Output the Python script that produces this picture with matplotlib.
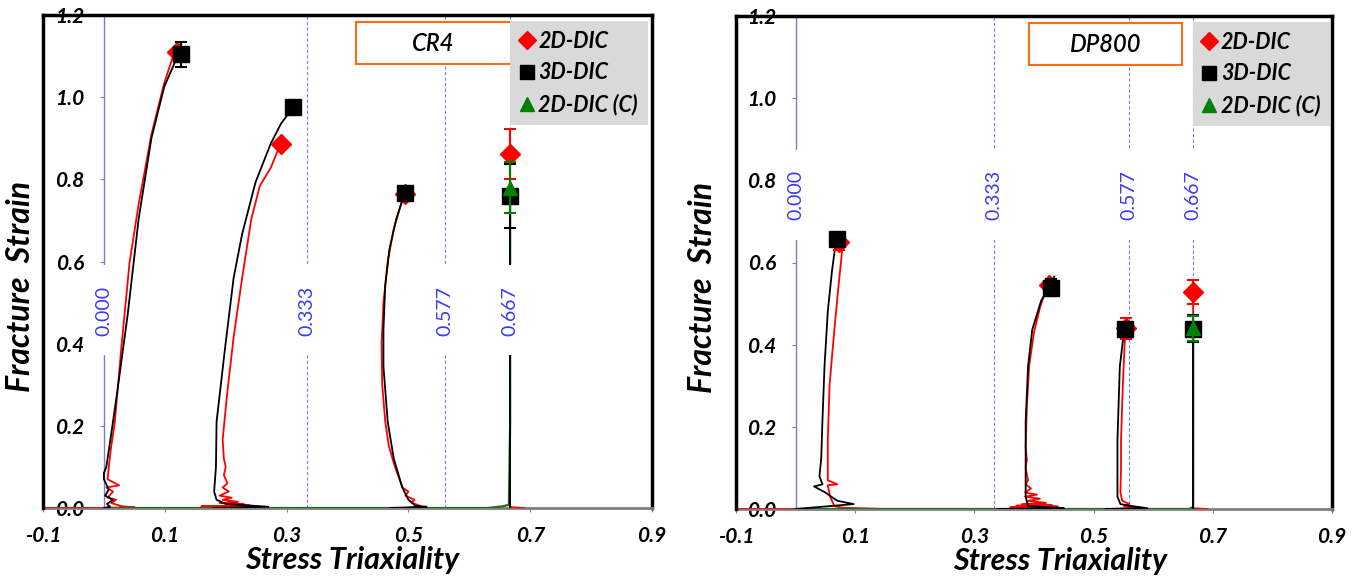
# -*- coding: utf-8 -*-
"""
Fracture strain vs stress triaxiality - CR4 and DP800
"""

import numpy as np
import matplotlib
matplotlib.use("Agg")
import matplotlib.pyplot as plt
from matplotlib.lines import Line2D
from matplotlib.patches import Rectangle

plt.rcParams['font.family'] = ['Lato', 'DejaVu Sans']

# ============================================================
# Data
# ============================================================

xticks = [-0.1, 0.1, 0.3, 0.5, 0.7, 0.9]
xtick_labels = ['-0.1', '0.1', '0.3', '0.5', '0.7', '0.9']
yticks = [0.0, 0.2, 0.4, 0.6, 0.8, 1.0, 1.2]
ytick_labels = ['0.0', '0.2', '0.4', '0.6', '0.8', '1.0', '1.2']

guide_x = [0.0, 0.333, 0.56, 0.667]
guide_labels = ['0.000', '0.333', '0.577', '0.667']

series_names = ['2D-DIC', '3D-DIC', '2D-DIC (C)']

# ---- CR4 curves (x = triaxiality, y = strain)
cr4_2d_curves = [
    ([-0.1, 0.0, 0.05, 0.03, 0.012, 0.02, 0.006, 0.015, 0.004, 0.025, 0.006, 0.008, 0.012, 0.018, 0.028, 0.042, 0.057, 0.078, 0.099, 0.117],
     [0.0, 0.0, 0.002, 0.004, 0.012, 0.02, 0.025, 0.04, 0.05, 0.055, 0.07, 0.1, 0.15, 0.21, 0.38, 0.596, 0.739, 0.909, 1.034, 1.115]),
    ([0.14, 0.25, 0.16, 0.24, 0.2, 0.23, 0.19, 0.22, 0.195, 0.21, 0.19, 0.205, 0.195, 0.203, 0.197, 0.2, 0.197, 0.195, 0.202, 0.213, 0.227, 0.242, 0.256, 0.274, 0.29],
     [0.0, 0.002, 0.004, 0.006, 0.008, 0.01, 0.012, 0.015, 0.02, 0.025, 0.03, 0.04, 0.05, 0.06, 0.08, 0.1, 0.12, 0.166, 0.273, 0.416, 0.56, 0.703, 0.784, 0.828, 0.887]),
    ([0.5, 0.52, 0.505, 0.51, 0.495, 0.5, 0.49, 0.478, 0.468, 0.462, 0.457, 0.456, 0.459, 0.466, 0.476, 0.488, 0.492],
     [0.0, 0.005, 0.013, 0.02, 0.03, 0.04, 0.05, 0.1, 0.15, 0.21, 0.3, 0.4, 0.5, 0.6, 0.68, 0.74, 0.76]),
    ([0.69, 0.667, 0.667], [0.0, 0.002, 0.862]),
]
cr4_3d_curves = [
    ([0.0, 0.01, 0.005, 0.015, 0.002, 0.008, 0.0, 0.0, 0.004, 0.012, 0.021, 0.039, 0.057, 0.078, 0.099, 0.121],
     [0.0, 0.003, 0.01, 0.02, 0.03, 0.045, 0.07, 0.085, 0.1, 0.18, 0.273, 0.47, 0.703, 0.9, 1.025, 1.1]),
    ([0.18, 0.27, 0.2, 0.185, 0.181, 0.184, 0.185, 0.192, 0.199, 0.213, 0.227, 0.249, 0.274, 0.291, 0.311],
     [0.0, 0.003, 0.01, 0.02, 0.04, 0.1, 0.21, 0.3, 0.39, 0.56, 0.667, 0.793, 0.887, 0.936, 0.976]),
    ([0.47, 0.53, 0.512, 0.5, 0.49, 0.476, 0.466, 0.459, 0.459, 0.462, 0.469, 0.48, 0.494],
     [0.0, 0.003, 0.005, 0.02, 0.05, 0.12, 0.21, 0.345, 0.434, 0.542, 0.631, 0.703, 0.767]),
    ([0.667, 0.667], [0.0, 0.759]),
]
cr4_2dc_curves = [
    ([0.0, 0.63, 0.655, 0.665, 0.667, 0.667], [0.0, 0.0, 0.004, 0.008, 0.2, 0.779]),
]

# ---- CR4 fracture points
cr4_2d_x = [0.12, 0.29, 0.494, 0.667]
cr4_2d_y = [1.11, 0.887, 0.765, 0.862]
cr4_2d_err = [0.0, 0.0, 0.0, 0.06]
cr4_3d_x = [0.126, 0.311, 0.494, 0.667]
cr4_3d_y = [1.104, 0.976, 0.767, 0.759]
cr4_3d_err = [0.03, 0.0, 0.0, 0.078]
cr4_2dc_x = [0.667]
cr4_2dc_y = [0.779]
cr4_2dc_err = [0.062]

# ---- DP800 curves
dp_2d_curves = [
    ([-0.1, 0.0, 0.15, 0.08, 0.065, 0.058, 0.054, 0.07, 0.054, 0.054, 0.057, 0.065, 0.072, 0.079],
     [0.0, 0.0, 0.0, 0.003, 0.007, 0.03, 0.058, 0.06, 0.07, 0.168, 0.302, 0.436, 0.543, 0.642]),
    ([0.33, 0.45, 0.36, 0.44, 0.37, 0.43, 0.38, 0.42, 0.39, 0.41, 0.385, 0.405, 0.385, 0.395, 0.386, 0.39, 0.386, 0.388, 0.386, 0.388, 0.392, 0.4, 0.41, 0.425],
     [0.0, 0.002, 0.004, 0.006, 0.008, 0.01, 0.012, 0.015, 0.02, 0.025, 0.03, 0.035, 0.04, 0.05, 0.06, 0.07, 0.1, 0.12, 0.15, 0.25, 0.35, 0.43, 0.49, 0.555]),
    ([0.53, 0.58, 0.551, 0.56, 0.548, 0.545, 0.546, 0.546, 0.549, 0.552, 0.555],
     [0.0, 0.003, 0.007, 0.012, 0.02, 0.04, 0.1, 0.168, 0.3, 0.4, 0.454]),
    ([0.69, 0.667, 0.667], [0.0, 0.002, 0.528]),
]
dp_3d_curves = [
    ([0.0, 0.0975, 0.07, 0.05, 0.031, 0.045, 0.04, 0.043, 0.045, 0.0485, 0.054, 0.061, 0.068],
     [0.0, 0.012, 0.02, 0.04, 0.055, 0.06, 0.08, 0.123, 0.213, 0.347, 0.481, 0.579, 0.655]),
    ([0.34, 0.45, 0.39, 0.386, 0.386, 0.386, 0.39, 0.397, 0.412, 0.427, 0.434],
     [0.0, 0.002, 0.007, 0.03, 0.079, 0.213, 0.347, 0.436, 0.507, 0.543, 0.566]),
    ([0.52, 0.59, 0.56, 0.545, 0.54, 0.54, 0.54, 0.544, 0.55, 0.553],
     [0.0, 0.002, 0.008, 0.012, 0.03, 0.1, 0.168, 0.347, 0.42, 0.44]),
    ([0.667, 0.667], [0.0, 0.439]),
]
dp_2dc_curves = [
    ([0.0, 0.66, 0.667, 0.667], [0.0, 0.0, 0.005, 0.44]),
]

# ---- DP800 fracture points
dp_2d_x = [0.072, 0.425, 0.555, 0.667]
dp_2d_y = [0.65, 0.545, 0.44, 0.528]
dp_2d_err = [0.02, 0.0, 0.025, 0.03]
dp_3d_x = [0.0697, 0.428, 0.553, 0.667]
dp_3d_y = [0.658, 0.539, 0.439, 0.439]
dp_3d_err = [0.015, 0.02, 0.0, 0.033]
dp_2dc_x = [0.667]
dp_2dc_y = [0.44]
dp_2dc_err = [0.03]

# ============================================================
# Plot
# ============================================================

fig = plt.figure(figsize=(13.64, 5.76), dpi=100)

ax1 = fig.add_axes([43 / 1364, 1 - 508 / 576, 609 / 1364, 493 / 576])
ax2 = fig.add_axes([736 / 1364, 1 - 509 / 576, 596 / 1364, 493 / 576])

bi = dict(fontweight='bold', fontstyle='italic')


def draw_panel(ax, name, curves2d, curves3d, curves2dc, pts2d, pts3d, pts2dc,
               label_y, gap, box_x, leg_x, ylab_x, xlab_x):
    ax.set_xlim(-0.1, 0.9)
    ax.set_ylim(0, 1.2)

    # guide lines with labels (line broken where the label sits)
    for i, (gx, gl) in enumerate(zip(guide_x, guide_labels)):
        if i == 0:
            ax.axvline(gx, color='#7f7fbf', lw=1.0, zorder=1)
        else:
            ax.axvline(gx, color='#7a7aff', lw=0.8, ls=(0, (3, 2)), zorder=1)
        ax.add_patch(Rectangle((gx - 0.012, gap[0]), 0.024, gap[1] - gap[0],
                               fc='white', ec='none', zorder=7))
        ax.text(gx, label_y, gl, rotation=90, ha='center', va='center',
                fontsize=14, color='#3a3af0', zorder=8)

    # curves
    for cx, cy in curves2d:
        ax.plot(cx, cy, color='red', lw=1.3, zorder=3)
    for cx, cy in curves2dc:
        ax.plot(cx, cy, color='#1f6a1f', lw=1.6, zorder=3)
    for cx, cy in curves3d:
        ax.plot(cx, cy, color='black', lw=1.3, zorder=3)

    # fracture points
    ax.errorbar(pts2d[0], pts2d[1], yerr=pts2d[2], fmt='D', color='red',
                ms=10, capsize=4, elinewidth=1.5, capthick=1.5, zorder=4)
    ax.errorbar(pts3d[0], pts3d[1], yerr=pts3d[2], fmt='s', color='black',
                ms=11, capsize=4, elinewidth=1.5, capthick=1.5, zorder=5)
    ax.errorbar(pts2dc[0], pts2dc[1], yerr=pts2dc[2], fmt='^', color='green',
                ms=10, capsize=4, elinewidth=1.5, capthick=1.5, zorder=6)

    # axes frame
    ax.spines['left'].set_position(('data', 0))
    ax.spines['left'].set_color('none')
    for s in ['top', 'right']:
        ax.spines[s].set_linewidth(2.5)
        ax.spines[s].set_color('black')
    ax.spines['bottom'].set_color('#7f7f7f')
    ax.spines['bottom'].set_linewidth(2.0)
    ax.axvline(-0.1, color='black', lw=2.5, clip_on=False, zorder=7)

    ax.set_xticks(xticks)
    ax.set_xticklabels(xtick_labels, **bi)
    ax.set_yticks(yticks)
    ax.set_yticklabels(ytick_labels, **bi)
    ax.tick_params(axis='x', direction='out', length=3, color='#7f7f7f',
                   labelsize=15, pad=10)
    ax.tick_params(axis='y', direction='out', length=3, color='#7f7f7f',
                   labelsize=15, pad=11)

    ax.set_ylabel('Fracture  Strain', fontsize=23, **bi)
    ax.yaxis.set_label_coords(ylab_x, 0.45)
    ax.set_xlabel('Stress Triaxiality', fontsize=22, **bi)
    ax.xaxis.set_label_coords(xlab_x, -0.077)

    # material name box
    ax.add_patch(Rectangle((box_x[0], 0.90), box_x[1] - box_x[0], 0.086,
                           transform=ax.transAxes, fc='white', ec='#ff6a13',
                           lw=1.5, zorder=9))
    ax.text((box_x[0] + box_x[1]) / 2, 0.943, name, transform=ax.transAxes,
            ha='center', va='center', fontsize=17, fontstyle='italic',
            fontweight='semibold', zorder=10)

    # legend
    handles = [
        Line2D([], [], marker='D', color='red', ls='none', ms=9),
        Line2D([], [], marker='s', color='black', ls='none', ms=10),
        Line2D([], [], marker='^', color='green', ls='none', ms=10),
    ]
    leg = ax.legend(handles, series_names, loc='upper right',
                    bbox_to_anchor=(leg_x, 0.988), frameon=True,
                    facecolor='#d9d9d9', edgecolor='none', framealpha=1,
                    fancybox=False, handlelength=0.6, handletextpad=0.25,
                    labelspacing=0.5, borderpad=0.45, borderaxespad=0,
                    prop=dict(size=15.5, weight='bold', style='italic'))
    leg.set_zorder(10)


draw_panel(ax1, 'CR4', cr4_2d_curves, cr4_3d_curves, cr4_2dc_curves,
           (cr4_2d_x, cr4_2d_y, cr4_2d_err),
           (cr4_3d_x, cr4_3d_y, cr4_3d_err),
           (cr4_2dc_x, cr4_2dc_y, cr4_2dc_err),
           label_y=0.479, gap=(0.372, 0.591), box_x=(0.514, 0.768),
           leg_x=0.993, ylab_x=-0.013, xlab_x=0.507)

draw_panel(ax2, 'DP800', dp_2d_curves, dp_3d_curves, dp_2dc_curves,
           (dp_2d_x, dp_2d_y, dp_2d_err),
           (dp_3d_x, dp_3d_y, dp_3d_err),
           (dp_2dc_x, dp_2dc_y, dp_2dc_err),
           label_y=0.764, gap=(0.655, 0.874), box_x=(0.492, 0.748),
           leg_x=0.997, ylab_x=-0.032, xlab_x=0.544)

plt.savefig('out.png', dpi=100)
